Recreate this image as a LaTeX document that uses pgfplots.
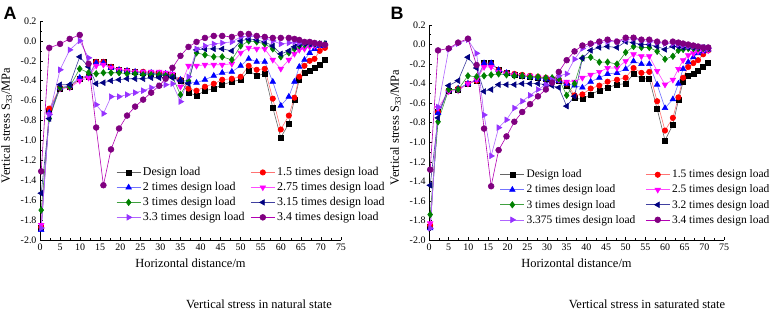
\documentclass[border=0pt]{standalone}
\usepackage{pgfplots}
\pgfplotsset{compat=1.18}
\usepackage{pgfplotstable}
\usepackage{fontspec}
\setmainfont{Liberation Serif}
\newfontfamily\sansf{Liberation Sans}

\definecolor{cgreen}{RGB}{0,128,0}
\definecolor{cnavy}{RGB}{0,0,128}
\definecolor{cviolet}{RGB}{150,50,255}
\definecolor{cpurple}{RGB}{128,0,128}
\definecolor{cmag}{RGB}{255,0,255}

\pgfplotstableread{
x D a b c d e f g
0.3 -1.88 -1.87 -1.90 -1.85 -1.70 -1.53 -1.88 -1.31
2.3 -0.70 -0.68 -0.72 -0.74 -0.78 -0.78 -0.74 -0.07
5 -0.48 -0.47 -0.47 -0.48 -0.47 -0.44 -0.29 -0.03
7.4 -0.46 -0.46 -0.45 -0.47 -0.46 -0.44 -0.09 0.02
9.9 -0.38 -0.38 -0.37 -0.40 -0.28 -0.16 0.00 0.06
12.1 -0.36 -0.36 -0.35 -0.37 -0.32 -0.26 -0.17 -0.23
14 -0.21 -0.21 -0.22 -0.25 -0.33 -0.43 -0.64 -0.87
15.8 -0.21 -0.21 -0.22 -0.24 -0.32 -0.42 -0.73 -1.45
17.7 -0.26 -0.26 -0.27 -0.27 -0.32 -0.40 -0.56 -1.09
19.7 -0.29 -0.29 -0.29 -0.29 -0.32 -0.39 -0.56 -0.88
21.7 -0.30 -0.30 -0.30 -0.30 -0.33 -0.38 -0.54 -0.75
23.7 -0.31 -0.31 -0.31 -0.31 -0.33 -0.38 -0.52 -0.66
25.7 -0.32 -0.31 -0.32 -0.31 -0.34 -0.38 -0.50 -0.59
27.7 -0.33 -0.32 -0.32 -0.31 -0.34 -0.37 -0.47 -0.52
29.7 -0.33 -0.32 -0.33 -0.31 -0.34 -0.37 -0.45 -0.45
31.3 -0.34 -0.33 -0.33 -0.32 -0.35 -0.37 -0.44 -0.38
33 -0.35 -0.34 -0.34 -0.33 -0.36 -0.37 -0.43 -0.27
35 -0.40 -0.39 -0.39 -0.46 -0.54 -0.40 -0.61 -0.15
37 -0.52 -0.48 -0.41 -0.25 -0.40 -0.43 -0.36 -0.06
39 -0.55 -0.50 -0.42 -0.25 -0.12 -0.09 -0.08 -0.01
41.1 -0.50 -0.46 -0.39 -0.24 -0.14 -0.08 -0.05 0.03
43.3 -0.48 -0.43 -0.35 -0.24 -0.16 -0.08 -0.03 0.05
45.4 -0.44 -0.39 -0.32 -0.24 -0.16 -0.08 -0.02 0.05
47.8 -0.41 -0.38 -0.31 -0.23 -0.19 -0.10 -0.01 0.04
50 -0.39 -0.36 -0.25 -0.12 -0.05 0.00 0.04 0.07
52 -0.30 -0.25 -0.18 -0.07 0.00 0.02 0.05 0.07
54 -0.35 -0.29 -0.21 -0.08 -0.01 0.01 0.04 0.05
56 -0.33 -0.28 -0.21 -0.08 -0.03 -0.01 0.02 0.04
58 -0.67 -0.58 -0.41 -0.19 -0.08 -0.05 0.00 0.03
60 -0.97 -0.89 -0.65 -0.28 -0.16 -0.13 -0.03 0.03
62 -0.83 -0.75 -0.56 -0.19 -0.12 -0.10 -0.02 0.03
63.4 -0.59 -0.57 -0.41 -0.13 -0.08 -0.06 -0.01 0.02
64.6 -0.39 -0.36 -0.26 -0.09 -0.05 -0.04 -0.02 0.01
65.9 -0.32 -0.25 -0.19 -0.08 -0.04 -0.03 -0.02 -0.01
67.2 -0.30 -0.20 -0.12 -0.06 -0.03 -0.03 -0.02 -0.01
68.4 -0.27 -0.18 -0.08 -0.05 -0.03 -0.03 -0.03 -0.02
69.7 -0.24 -0.10 -0.05 -0.04 -0.03 -0.03 -0.03 -0.03
71 -0.19 -0.07 -0.03 -0.04 -0.03 -0.03 -0.04 -0.04
}\tabA

\pgfplotstableread{
x D a b c d e f g
0.3 -1.87 -1.85 -1.88 -1.83 -1.74 -1.44 -1.88 -1.28
2.3 -0.69 -0.69 -0.70 -0.65 -0.79 -0.75 -0.64 -0.06
5 -0.47 -0.47 -0.47 -0.48 -0.46 -0.42 -0.05 -0.04
7.4 -0.46 -0.45 -0.45 -0.47 -0.46 -0.37 0.01 0.02
9.9 -0.40 -0.40 -0.40 -0.40 -0.32 -0.13 0.05 0.06
12.1 -0.37 -0.37 -0.36 -0.36 -0.33 -0.24 -0.09 -0.21
14 -0.19 -0.20 -0.19 -0.23 -0.32 -0.48 -0.72 -0.86
15.8 -0.19 -0.20 -0.19 -0.23 -0.31 -0.46 -1.14 -1.45
17.7 -0.26 -0.26 -0.26 -0.28 -0.30 -0.41 -0.85 -1.08
19.7 -0.29 -0.29 -0.29 -0.30 -0.31 -0.41 -0.77 -0.94
21.7 -0.31 -0.30 -0.31 -0.31 -0.32 -0.41 -0.65 -0.79
23.7 -0.32 -0.31 -0.32 -0.32 -0.32 -0.40 -0.58 -0.69
25.7 -0.33 -0.32 -0.33 -0.32 -0.33 -0.40 -0.52 -0.61
27.7 -0.34 -0.33 -0.34 -0.33 -0.33 -0.40 -0.46 -0.53
29.7 -0.35 -0.34 -0.35 -0.34 -0.34 -0.41 -0.41 -0.46
31.3 -0.36 -0.35 -0.36 -0.35 -0.34 -0.42 -0.36 -0.39
33 -0.37 -0.36 -0.37 -0.36 -0.35 -0.44 -0.32 -0.28
35 -0.42 -0.40 -0.40 -0.38 -0.52 -0.63 -0.30 -0.16
37 -0.55 -0.52 -0.42 -0.38 -0.40 -0.53 -0.15 -0.07
39 -0.56 -0.51 -0.44 -0.34 -0.14 -0.14 -0.04 -0.01
41.1 -0.51 -0.45 -0.38 -0.31 -0.13 -0.06 0.00 0.01
43.3 -0.47 -0.42 -0.34 -0.28 -0.18 -0.03 0.02 0.03
45.4 -0.44 -0.38 -0.30 -0.24 -0.18 -0.02 0.03 0.05
47.8 -0.41 -0.36 -0.29 -0.24 -0.20 -0.03 0.03 0.03
50 -0.40 -0.34 -0.25 -0.17 -0.08 0.03 0.05 0.07
52 -0.30 -0.24 -0.17 -0.10 -0.02 0.02 0.06 0.07
54 -0.35 -0.29 -0.20 -0.12 -0.03 0.00 0.04 0.05
56 -0.35 -0.28 -0.20 -0.12 -0.03 0.00 0.03 0.05
58 -0.66 -0.58 -0.41 -0.27 -0.07 -0.02 0.02 0.03
60 -0.98 -0.88 -0.65 -0.41 -0.15 -0.05 0.01 0.02
62 -0.82 -0.75 -0.56 -0.36 -0.12 -0.02 0.01 0.03
63.4 -0.57 -0.54 -0.40 -0.25 -0.06 -0.02 0.00 0.02
64.6 -0.38 -0.34 -0.25 -0.16 -0.05 -0.03 -0.01 0.01
65.9 -0.32 -0.23 -0.18 -0.11 -0.04 -0.03 -0.02 0.00
67.2 -0.30 -0.19 -0.13 -0.09 -0.04 -0.03 -0.02 -0.01
68.4 -0.27 -0.16 -0.09 -0.07 -0.04 -0.03 -0.03 -0.02
69.7 -0.23 -0.10 -0.07 -0.06 -0.04 -0.03 -0.03 -0.03
71 -0.19 -0.06 -0.05 -0.06 -0.04 -0.04 -0.04 -0.03
}\tabB

\pgfplotsset{
  every axis plot/.append style={legend image code/.code={\draw[mark repeat=2,mark phase=2,#1] plot coordinates {(0bp,0bp) (12bp,0bp) (24bp,0bp)};}},
  sD/.style={draw=black!60, line width=0.6bp, mark=square*, mark size=2.5bp, mark options={draw=black, fill=black, solid}},
  sa/.style={draw=red!55, line width=0.6bp, mark=*, mark size=2.7bp, mark options={draw=red, fill=red}},
  sb/.style={draw=blue!55, line width=0.6bp, mark=triangle*, mark size=3.2bp, mark options={draw=blue, fill=blue}},
  sc/.style={draw=cmag!70, line width=0.6bp, mark=triangle*, mark size=3.2bp, mark options={draw=cmag, fill=cmag, rotate=180}},
  sd/.style={draw=cgreen!75, line width=0.6bp, mark=diamond*, mark size=3.2bp, mark options={draw=cgreen, fill=cgreen}},
  se/.style={draw=cnavy!75, line width=0.6bp, mark=triangle*, mark size=3.2bp, mark options={draw=cnavy, fill=cnavy, rotate=90}},
  sf/.style={draw=cviolet!75, line width=0.6bp, mark=triangle*, mark size=3.2bp, mark options={draw=cviolet, fill=cviolet, rotate=-90}},
  sg/.style={draw=cpurple!60!cmag, line width=0.6bp, mark=*, mark size=2.9bp, mark options={draw=cpurple, fill=cpurple}},
  myax/.style={
    scale only axis,
    xmin=0, xmax=75, ymin=-2, ymax=0.2,
    axis lines=left, axis line style={-, line width=0.6bp},
    xtick={0,5,...,75},
    ytick={-2.0,-1.8,-1.6,-1.4,-1.2,-1.0,-0.8,-0.6,-0.4,-0.2,0.0,0.2},
    yticklabels={-2.0,-1.8,-1.6,-1.4,-1.2,-1.0,-0.8,-0.6,-0.4,-0.2,0.0,0.2},
    xticklabels={0,5,10,15,20,25,30,35,40,45,50,55,60,65,70,75},
    minor x tick num=1, minor y tick num=1,
    tick align=inside, major tick length=3bp, minor tick length=1.8bp,
    tick style={black, line width=0.6bp},
    tick label style={font=\fontsize{10}{11}\selectfont},
    xlabel={Horizontal distance/m},
    ylabel={Vertical stress S\textsubscript{33}/MPa},
    label style={font=\fontsize{12.5}{14}\selectfont},
    xlabel style={yshift=-2bp},
    ylabel style={yshift=2bp, xshift=5bp},
    legend columns=2, legend cell align=left,
    legend style={draw=none, fill=none, font=\fontsize{12}{13}\selectfont, anchor=north west, row sep=1.2bp},
    clip=false,
  }
}

\begin{document}
\begin{tikzpicture}
\path[use as bounding box] (0,0) rectangle (782bp,310bp);

\begin{axis}[myax, at={(40bp,70bp)}, anchor=south west, width=301bp, height=219bp,
  legend style={at={(0.243,0.35)}, /tikz/every even column/.append style={column sep=4bp}}]
\addplot[sD] table[x=x,y=D]{\tabA};
\addplot[sa] table[x=x,y=a]{\tabA};
\addplot[sb] table[x=x,y=b]{\tabA};
\addplot[sc] table[x=x,y=c]{\tabA};
\addplot[sd] table[x=x,y=d]{\tabA};
\addplot[se] table[x=x,y=e]{\tabA};
\addplot[sf] table[x=x,y=f]{\tabA};
\addplot[sg] table[x=x,y=g]{\tabA};
\legend{Design load,1.5 times design load,2 times design load,2.75 times design load,3 times design load,3.15 times design load,3.3 times design load,3.4 times design load}
\end{axis}

\begin{axis}[myax, at={(429bp,70bp)}, anchor=south west, width=295bp, height=215bp,
  legend style={at={(0.23,0.345)}, font=\fontsize{11.5}{13}\selectfont, row sep=1.6bp, /tikz/every even column/.append style={column sep=8bp}}]
\addplot[sD] table[x=x,y=D]{\tabB};
\addplot[sa] table[x=x,y=a]{\tabB};
\addplot[sb] table[x=x,y=b]{\tabB};
\addplot[sc] table[x=x,y=c]{\tabB};
\addplot[sd] table[x=x,y=d]{\tabB};
\addplot[se] table[x=x,y=e]{\tabB};
\addplot[sf] table[x=x,y=f]{\tabB};
\addplot[sg] table[x=x,y=g]{\tabB};
\legend{Design load,1.5 times design load,2 times design load,2.5 times design load,3 times design load,3.2 times design load,3.375 times design load,3.4 times design load}
\end{axis}

\node[font=\sansf\bfseries\fontsize{18}{18}\selectfont] at (10bp,297bp) {A};
\node[font=\sansf\bfseries\fontsize{18}{18}\selectfont] at (397bp,297bp) {B};
\node[font=\fontsize{12.5}{14}\selectfont] at (259bp,6bp) {Vertical stress in natural state};
\node[font=\fontsize{12.5}{14}\selectfont] at (647bp,6bp) {Vertical stress in saturated state};
\end{tikzpicture}
\end{document}
